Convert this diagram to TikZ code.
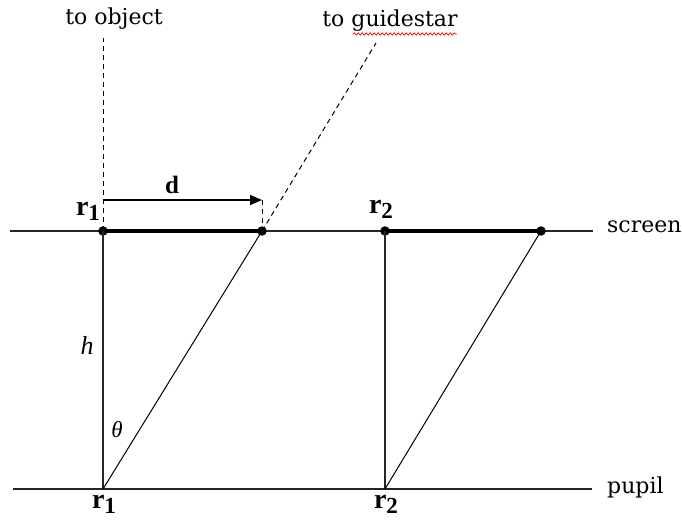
\documentclass[tikz,border=0pt]{standalone}
\usepackage{fontspec}
\setmainfont{Liberation Serif}
\newfontfamily\lblfont{DejaVu Serif}
\usetikzlibrary{arrows.meta,decorations.pathmorphing}
\begin{document}
\begin{tikzpicture}[x=1pt,y=-1pt,
  dot/.style={circle,fill=black,inner sep=0pt,minimum size=9.5pt},
  plainline/.style={line width=1.5pt,black!85},
  thickseg/.style={line width=3.4pt},
  diag/.style={line width=1pt},
  dashline/.style={line width=1pt,dash pattern=on 5pt off 4pt},
  lbl/.style={inner sep=0pt,font=\lblfont\fontsize{22}{26}\selectfont},
  rlbl/.style={inner sep=0pt,font=\bfseries\fontsize{28}{30}\selectfont}]
\useasboundingbox (0,0) rectangle (682,519);
% coordinates
\coordinate (sL) at (10,231);
\coordinate (sR) at (593,231);
\coordinate (pL) at (13,489);
\coordinate (pR) at (592,489);
\coordinate (p1) at (103,489);
\coordinate (p2) at (385,489);
\coordinate (obj) at (103,38);
\coordinate (gs) at (376,43);
\coordinate (a1) at (103,200);
\coordinate (a2) at (262,200);
% lines
\draw[plainline] (sL) -- (sR);
\draw[plainline] (pL) -- (pR);
\node[dot] (s1) at (103,231) {};
\node[dot] (s1b) at (262,231) {};
\node[dot] (s2) at (385,231) {};
\node[dot] (s2b) at (541,231) {};
\draw[thickseg] (s1.center) -- (s1b.center);
\draw[thickseg] (s2.center) -- (s2b.center);
\draw[plainline] (s1.center) -- (p1);
\draw[plainline] (s2.center) -- (p2);
\draw[diag] (p1) -- (s1b.center);
\draw[diag] (p2) -- (s2b.center);
\draw[dashline] (s1.center) -- (obj);
\draw[dashline] (s1b.center) -- (gs);
\draw[dashline] (a2) -- (s1b.center);
\draw[line width=1.4pt,-{Triangle[length=12pt,width=10pt]}] (a1) -- (a2);
% labels
\node[lbl] (tobj) at (114,19) {to object};
\node[lbl] (tgs) at (390,21) {to guidestar};
\draw[red,line width=0.7pt,decorate,decoration={snake,amplitude=1.1pt,segment length=4pt}] (353,34) -- (457,34);
\node[lbl,anchor=west] (scr) at (607,227) {screen};
\node[lbl,anchor=west] (pup) at (607,487) {pupil};
\node[inner sep=0pt,font=\bfseries\fontsize{25}{28}\selectfont] (dl) at (172,185) {d};
\node[rlbl] (r1t) at (88,211) {r\raisebox{-5pt}{\fontsize{23}{26}\selectfont 1}};
\node[rlbl] (r2t) at (381,209) {r\raisebox{-5pt}{\fontsize{23}{26}\selectfont 2}};
\node[rlbl] (r1b) at (104,504) {r\raisebox{-5pt}{\fontsize{23}{26}\selectfont 1}};
\node[rlbl] (r2b) at (386,504) {r\raisebox{-5pt}{\fontsize{23}{26}\selectfont 2}};
\node[inner sep=0pt,font=\itshape\fontsize{26}{28}\selectfont] (hl) at (87,345) {h};
\node[inner sep=0pt,font=\itshape\fontsize{23}{26}\selectfont] (th) at (117,430) {θ};
\end{tikzpicture}
\end{document}
